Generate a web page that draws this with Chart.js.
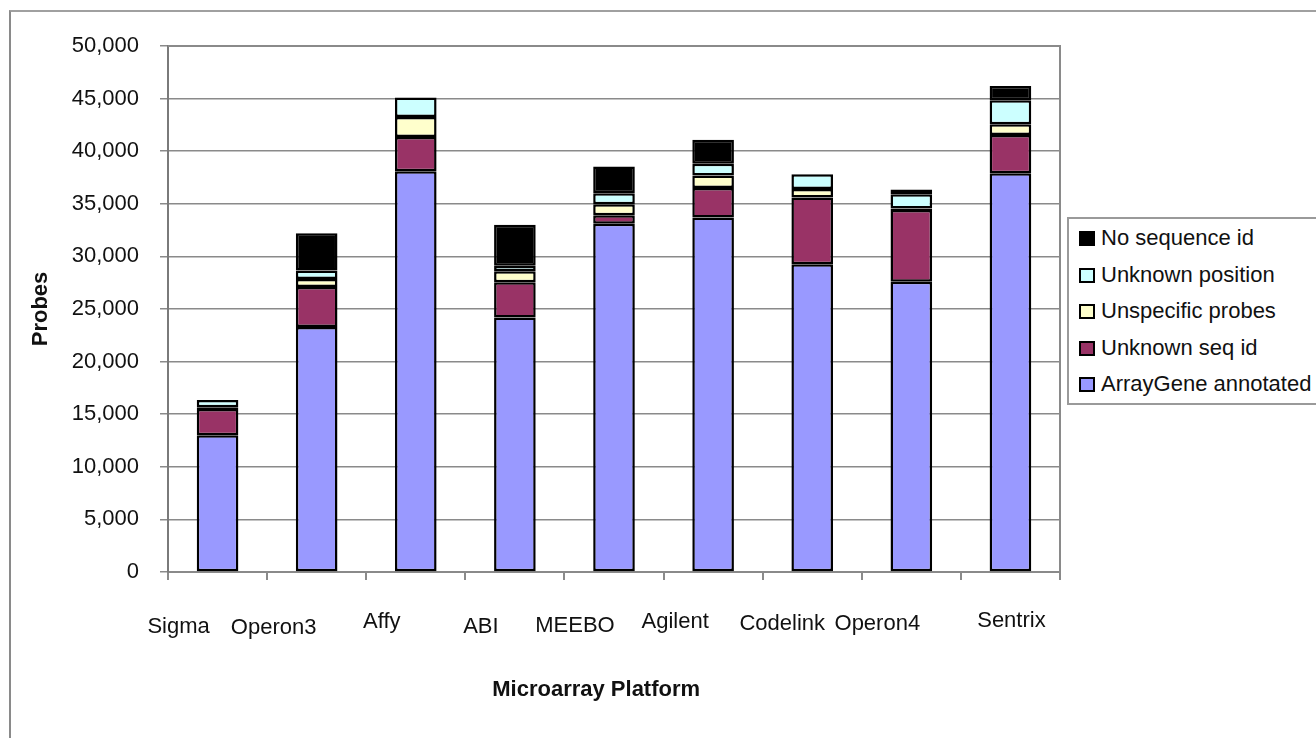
<!DOCTYPE html>
<html>
<head>
<meta charset="utf-8">
<script src="https://cdn.jsdelivr.net/npm/chart.js@4/dist/chart.umd.min.js"></script>
<style>
	html, body { margin: 0; padding: 0; background: #fff; overflow: hidden; }
	#wrap { position: relative; width: 1316px; height: 738px; }
	#frame { position: absolute; left: 9px; top: 10px; width: 1400px; height: 800px; border-left: 2px solid #8a8a8a; border-top: 2px solid #a0a0a0; }
	#legend { position: absolute; left: 1067px; top: 217px; width: 300px; height: 184px; border: 2px solid #9a9a9a; background: #fff;
		font-family: "Liberation Sans", Arial, sans-serif; font-size: 22px; color: #111; }
	#legend div { position: absolute; left: 10px; height: 22px; line-height: 22px; white-space: nowrap; }
	#legend span { display: inline-block; width: 12px; height: 11px; border: 2px solid #000; margin-right: 6px; vertical-align: -1px; }
	canvas { position: absolute; left: 0; top: 0; }
</style>
</head>
<body>
<div id="wrap">
	<div id="frame"></div>
	<canvas id="chart" width="1316" height="738"></canvas>
	<div id="legend"></div>
</div>
<script>
const platforms = ['Sigma', 'Operon3', 'Affy', 'ABI', 'MEEBO', 'Agilent', 'Codelink', 'Operon4', 'Sentrix'];

// probe counts per platform, bottom of the stack first
const arrayGeneAnnotated = [13000, 23300, 38100, 24200, 33100, 33700, 29250, 27600, 37900];
const unknownSeqId = [2500, 3800, 3250, 3350, 800, 2800, 6350, 6800, 3650];
const unspecificProbes = [150, 750, 1900, 1050, 1050, 1200, 800, 150, 1000];
const unknownPosition = [700, 800, 1850, 500, 1050, 1100, 1400, 1350, 2300];
const noSequenceId = [0, 3550, 0, 3900, 2550, 2300, 0, 450, 1350];

const yTicks = [0, 5000, 10000, 15000, 20000, 25000, 30000, 35000, 40000, 45000, 50000];

// the category labels in the original sit a bit off-centre, staggered
const labelShift = [-39, -43, -34, -34, -39, -38, -30, -34, 1];
const labelY = [627, 628, 622, 627, 626, 622, 624, 624, 621];

const FONT = '"Liberation Sans", Arial, sans-serif';
Chart.defaults.font.family = FONT;
Chart.defaults.font.size = 22;
Chart.defaults.color = '#111';

const series = [
	{ label: 'ArrayGene annotated', data: arrayGeneAnnotated, color: '#9999ff' },
	{ label: 'Unknown seq id', data: unknownSeqId, color: '#993366' },
	{ label: 'Unspecific probes', data: unspecificProbes, color: '#ffffcc' },
	{ label: 'Unknown position', data: unknownPosition, color: '#ccffff' },
	{ label: 'No sequence id', data: noSequenceId, color: '#000000' }
];

// legend, top entry is the top of the stack
const legendEl = document.querySelector('#legend');
series.slice().reverse().forEach((s, i) => {
	const row = document.createElement('div');
	row.style.top = (8 + i * 36.5) + 'px';
	row.innerHTML = '<span style="background:' + s.color + '"></span>' + s.label;
	legendEl.appendChild(row);
});

const plotFrame = {
	id: 'plotFrame',
	afterDraw(chart) {
		const { ctx, chartArea } = chart;
		ctx.save();
		ctx.strokeStyle = '#8a8a8a';
		ctx.lineWidth = 2;
		ctx.beginPath();
		ctx.moveTo(chartArea.left, chartArea.top);
		ctx.lineTo(chartArea.right, chartArea.top);
		ctx.lineTo(chartArea.right, chartArea.bottom);
		ctx.stroke();

		// category labels
		const xs = chart.scales.x;
		ctx.fillStyle = '#111';
		ctx.font = '22px ' + FONT;
		ctx.textAlign = 'center';
		ctx.textBaseline = 'middle';
		platforms.forEach((p, i) => {
			ctx.fillText(p, xs.getPixelForValue(i) + labelShift[i], labelY[i]);
		});

		// axis title, sits left of the plot centre in the original
		ctx.font = 'bold 22px ' + FONT;
		ctx.fillText('Microarray Platform', chartArea.left + (chartArea.right - chartArea.left) * 0.48, 690);
		ctx.restore();
	}
};

new Chart(document.querySelector('#chart'), {
	type: 'bar',
	data: {
		labels: platforms,
		datasets: series.map(s => ({
			label: s.label,
			data: s.data,
			backgroundColor: s.color,
			borderColor: '#000',
			borderWidth: 2.5,
			borderSkipped: false,
			categoryPercentage: 1,
			barPercentage: 0.42
		}))
	},
	options: {
		responsive: false,
		animation: false,
		layout: { padding: { left: 0, top: 46, right: 256, bottom: 0 } },
		plugins: {
			legend: { display: false },
			tooltip: { enabled: false }
		},
		scales: {
			x: {
				stacked: true,
				offset: true,
				grid: { offset: true, drawOnChartArea: false, drawTicks: true, tickLength: 8, color: '#8a8a8a', lineWidth: 2 },
				border: { color: '#8a8a8a', width: 2 },
				ticks: { display: false },
				afterFit(scale) { scale.height = 166; }
			},
			y: {
				stacked: true,
				min: 0,
				max: 50000,
				afterBuildTicks(scale) { scale.ticks = yTicks.map(v => ({ value: v })); },
				grid: { color: '#8a8a8a', lineWidth: 1.5, tickLength: 8 },
				border: { color: '#7a7a7a', width: 2 },
				ticks: {
					padding: 21,
					callback: v => v.toLocaleString('en-US')
				},
				title: { display: true, text: 'Probes', font: { weight: 'bold', size: 22 }, padding: { top: 28, bottom: 0 } },
				afterFit(scale) { scale.width = 168; }
			}
		}
	},
	plugins: [plotFrame]
});
</script>
</body>
</html>
